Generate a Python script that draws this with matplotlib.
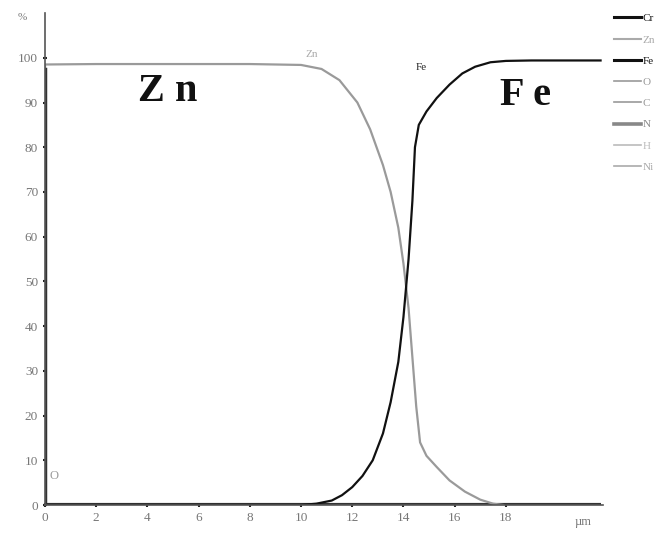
import matplotlib
matplotlib.use("Agg")
import matplotlib.pyplot as plt
from matplotlib.lines import Line2D

# depth profile (um) vs concentration (%)
zn_x = [0.0, 0.0, 2, 4, 6, 8, 10.0, 10.8, 11.5, 12.2, 12.7, 13.2, 13.5, 13.8, 14.0, 14.2, 14.35, 14.5, 14.65, 14.9, 15.3, 15.8, 16.4, 17.0, 17.5, 17.9]
zn_y = [0.0, 98.5, 98.6, 98.6, 98.6, 98.6, 98.4, 97.5, 95.0, 90.0, 84.0, 76.0, 70.0, 62.0, 54.0, 44.0, 33.0, 22.0, 14.0, 11.0, 8.5, 5.5, 3.0, 1.2, 0.3, 0.0]

fe_x = [0.0, 10.0, 10.6, 11.2, 11.6, 12.0, 12.4, 12.8, 13.2, 13.5, 13.8, 14.0, 14.2, 14.35, 14.45, 14.6, 14.9, 15.3, 15.8, 16.3, 16.8, 17.4, 18.0, 19.0, 21.7]
fe_y = [0.0, 0.0, 0.3, 1.0, 2.2, 4.0, 6.5, 10.0, 16.0, 23.0, 32.0, 42.0, 55.0, 68.0, 80.0, 85.0, 88.0, 91.0, 94.0, 96.5, 98.0, 99.0, 99.3, 99.4, 99.4]

base_x = [0.0, 21.7]
base_y = [0.0, 0.0]

legend_names = ["Cr", "Zn", "Fe", "O", "C", "N", "H", "Ni"]
legend_colors = ["#111111", "#aaaaaa", "#111111", "#999999", "#999999", "#888888", "#bbbbbb", "#aaaaaa"]
legend_widths = [2.2, 1.5, 2.2, 1.2, 1.2, 2.6, 1.2, 1.2]

y_ticks = list(range(0, 101, 10))
x_ticks = list(range(0, 19, 2))

plt.rcParams["font.family"] = ["Liberation Serif", "DejaVu Serif"]

fig = plt.figure(figsize=(6.66, 5.33), dpi=100)
ax = fig.add_axes((0.0676, 0.0525, 0.838, 0.923))

ax.plot(base_x, base_y, color="#333333", lw=3.0, solid_capstyle="butt")
ax.plot(zn_x, zn_y, color="#9a9a9a", lw=1.6)
ax.plot(fe_x, fe_y, color="#111111", lw=1.6)
ax.plot([0, 0], [0, 97.5], color="#333333", lw=2.5)

ax.set_xlim(0, 21.8)
ax.set_ylim(0, 110)
ax.spines[["top", "right"]].set_visible(False)
ax.spines["left"].set_color("#555555")
ax.spines["bottom"].set_color("#555555")
ax.spines["left"].set_linewidth(1.2)
ax.spines["bottom"].set_linewidth(1.2)

ax.set_yticks(y_ticks)
ax.set_xticks(x_ticks)
ax.tick_params(axis="both", colors="#222222", labelcolor="#777777",
               labelsize=9.5, length=3, width=1.5, direction="inout")

ax.text(-0.9, 109, "%", color="#777777", fontsize=8, ha="center", va="center", clip_on=False)
ax.text(21.0, -3.8, "µm", color="#777777", fontsize=9, ha="center", va="center", clip_on=False)

ax.text(4.8, 92.5, "Z n", fontsize=29, fontweight="bold", ha="center", va="center", color="#111111")
ax.text(18.75, 91.5, "F e", fontsize=29, fontweight="bold", ha="center", va="center", color="#111111")
ax.text(10.4, 100.8, "Zn", fontsize=8, color="#aaaaaa", ha="center", va="center")
ax.text(14.7, 97.8, "Fe", fontsize=8, color="#222222", ha="center", va="center")
ax.text(0.35, 6.5, "O", fontsize=9, color="#999999", ha="center", va="center")

handles = [Line2D([], [], color=c, lw=w) for c, w in zip(legend_colors, legend_widths)]
leg = fig.legend(handles, legend_names, loc="upper left", bbox_to_anchor=(0.913, 0.985),
                 frameon=False, fontsize=8, handlelength=2.5, handletextpad=0.1,
                 labelspacing=1.03, borderpad=0)
for t, c in zip(leg.get_texts(), legend_colors):
    t.set_color(c)

fig.savefig("out.png", dpi=100)
